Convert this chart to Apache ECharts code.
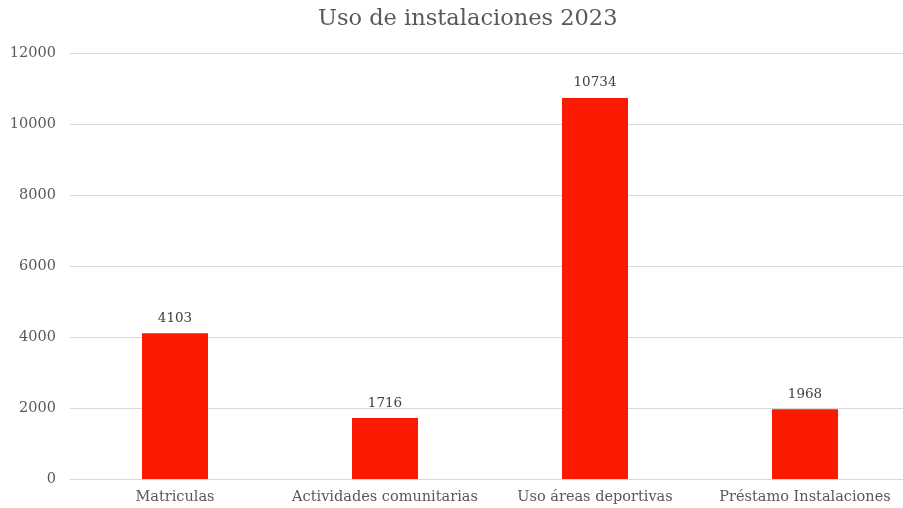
<!DOCTYPE html>
<html>
<head>
<meta charset="utf-8">
<script src="https://cdn.jsdelivr.net/npm/echarts@6/dist/echarts.min.js"></script>
<style>
    html, body { margin: 0; padding: 0; background: #fff; overflow: hidden; }
    #chart { width: 910px; height: 508px; }
</style>
</head>
<body>
<div id="chart"></div>
<script>
var categories = ["Matriculas", "Actividades comunitarias", "Uso áreas deportivas", "Préstamo Instalaciones"];
var values = [4103, 1716, 10734, 1968];

var textColor = "#595959";
var fontFamily = "'DejaVu Serif', serif";

// plot area runs past the right edge of the 903px window, like the original
var chart = echarts.init(document.getElementById("chart"));

chart.setOption({
    animation: false,
    title: {
        text: "Uso de instalaciones 2023",
        left: 313,
        top: 3,
        textStyle: {
            color: textColor,
            fontFamily: fontFamily,
            fontWeight: "normal",
            fontSize: 22.5,
        },
    },
    grid: {
        left: 70,
        top: 53,
        right: 0,
        bottom: 29,
    },
    xAxis: {
        type: "category",
        data: categories,
        axisTick: { show: false },
        axisLine: { lineStyle: { color: "#d9d9d9" } },
        axisLabel: {
            color: textColor,
            fontFamily: fontFamily,
            fontSize: 14.5,
            margin: 11,
            interval: 0,
        },
    },
    yAxis: {
        type: "value",
        min: 0,
        max: 12000,
        interval: 2000,
        axisLabel: {
            color: textColor,
            fontFamily: fontFamily,
            fontSize: 14.5,
            margin: 14,
            formatter: function (v) { return String(v); },
        },
        splitLine: { lineStyle: { color: "#d9d9d9" } },
    },
    series: [
        {
            type: "bar",
            data: values,
            barWidth: 66,
            itemStyle: { color: "#f91a00" },
            label: {
                show: true,
                position: "top",
                distance: 8,
                color: "#404040",
                fontFamily: fontFamily,
                fontSize: 13.5,
            },
        },
    ],
});
</script>
</body>
</html>
